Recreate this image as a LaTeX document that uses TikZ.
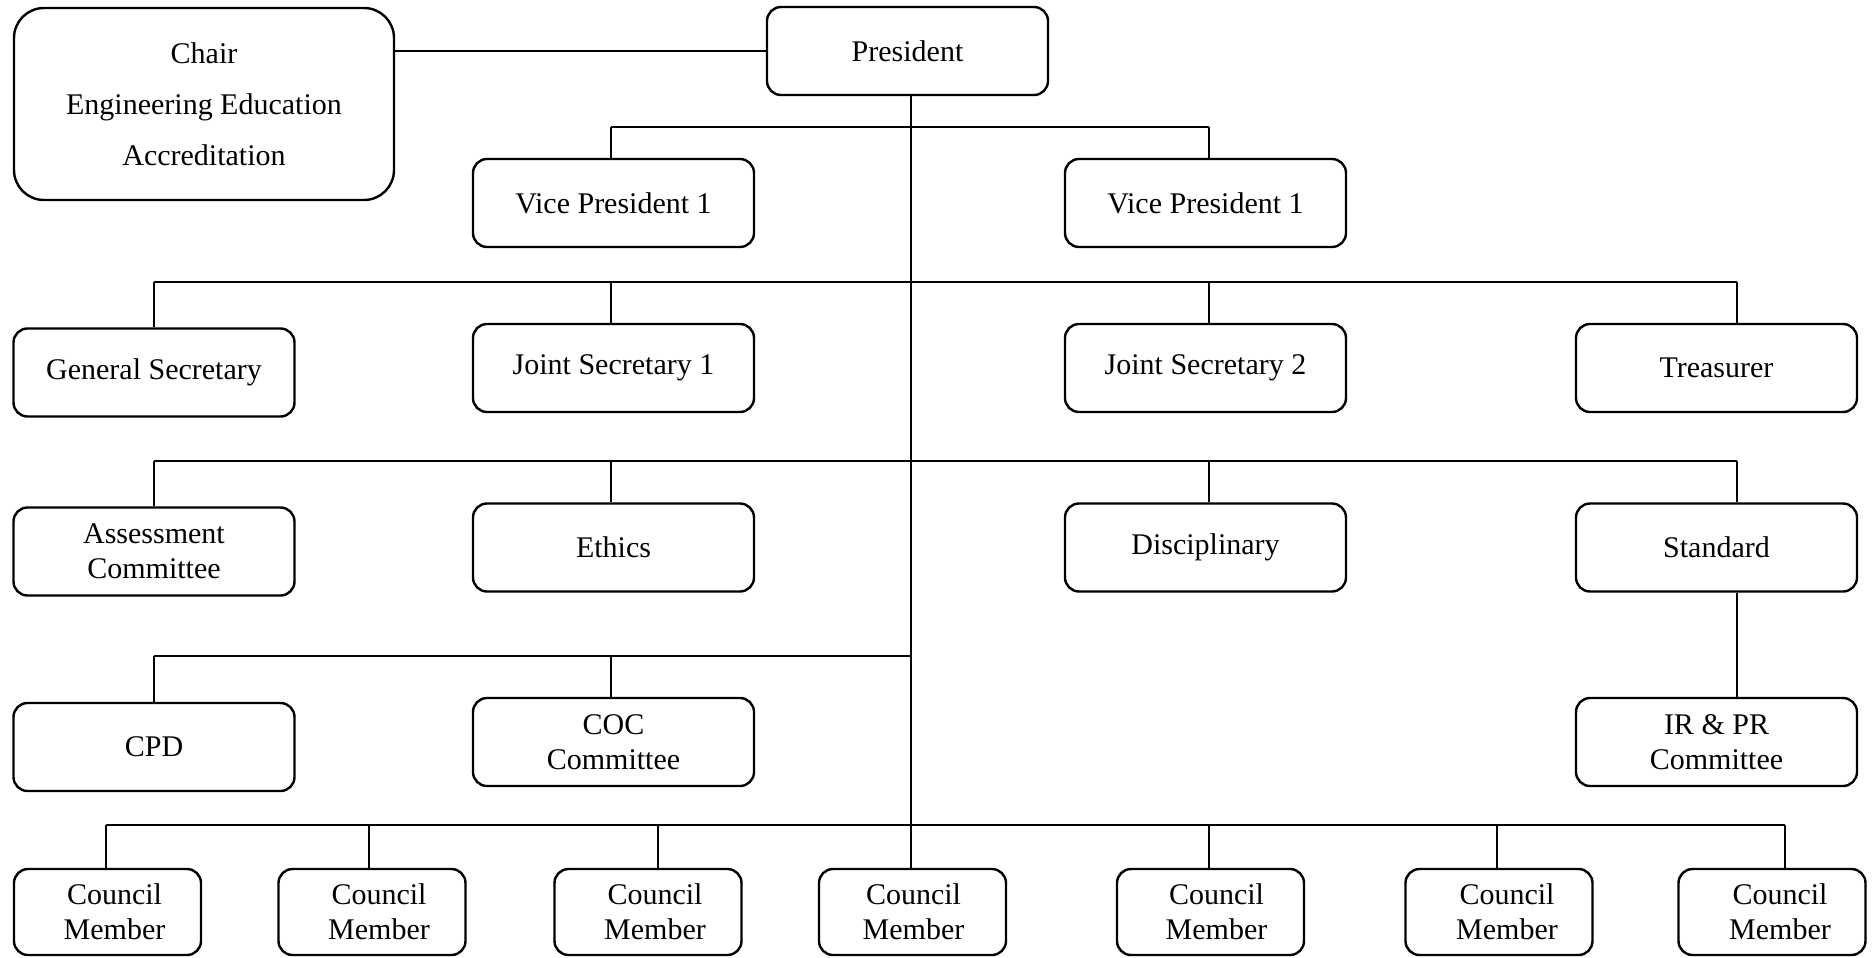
\documentclass[tikz,border=0pt]{standalone}
\usepackage{fontspec}
\setmainfont{Liberation Serif}
\usetikzlibrary{positioning, calc}

\begin{document}
\begin{tikzpicture}[
    x=0.5pt, y=-0.5pt,
    font=\fontsize{15}{17.5}\selectfont,
    post/.style={rectangle, draw, rounded corners=7pt, line width=1.2pt, minimum width=140.5pt, minimum height=44pt, align=center, inner sep=0pt},
    member/.style={post, minimum width=93.5pt, minimum height=43pt},
    bus/.style={line width=0.9pt},
    drop/.style={line width=0.6pt}
]
\useasboundingbox (0,0) rectangle (1874,958);

% top
\node[post, minimum width=190pt, minimum height=96pt, rounded corners=15pt] (chair) at (204,104) {Chair\\[8pt]Engineering Education\\[8pt]Accreditation};
\node[post] (pres) at (907.5,51) {President};
\node[post] (vpa) at (613.5,203) {Vice President 1};
\node[post] (vpb) at (1205.5,203) {Vice President 1};

% officers
\node[post] (gensec) at (154,372.5) {General Secretary};
\node[post] (jsa) at (613.5,368) {Joint Secretary 1};
\node[post] (jsb) at (1205.5,368) {Joint Secretary 2};
\node[post] (treas) at (1716.5,368) {Treasurer};

% committees
\node[post] (assess) at (154,551.5) {Assessment\\Committee};
\node[post] (ethics) at (613.5,547.5) {Ethics};
\node[post] (discip) at (1205.5,547.5) {Disciplinary};
\node[post] (std) at (1716.5,547.5) {Standard};
\node[post] (cpd) at (154,747) {CPD};
\node[post] (coc) at (613.5,742) {COC\\Committee};
\node[post] (irpr) at (1716.5,742) {IR \& PR\\Committee};

% council
\foreach \n/\x/\p in {cma/107.5/7, cmb/372/7, cmc/648/7, cmd/912.5/1, cme/1210.5/6, cmf/1499/8, cmg/1772/8}
  \node[member] (\n) at (\x,912) {\hspace*{\p pt}Council\\\hspace*{\p pt}Member};

% trunk
\coordinate (trunk) at (911,0);
\draw[drop] (trunk |- pres.south) -- (trunk |- cmd.north);
\draw[drop] (pres.west) -- (pres.west -| chair.east);

% vice presidents
\foreach \x/\n in {611/vpa, 1209/vpb}
  {\coordinate (t\n) at (\x,127); \draw[drop] (t\n) -- (t\n |- \n.north);}
\draw[bus] (tvpa) -- (tvpb);

% officers
\foreach \x/\n in {154/gensec, 611/jsa, 1209/jsb, 1737/treas}
  {\coordinate (t\n) at (\x,282); \draw[drop] (t\n) -- (t\n |- \n.north);}
\draw[bus] (tgensec) -- (ttreas);

% committees
\foreach \x/\n in {154/assess, 611/ethics, 1209/discip, 1737/std}
  {\coordinate (t\n) at (\x,461); \draw[drop] (t\n) -- (t\n |- \n.north);}
\draw[bus] (tassess) -- (tstd);
\draw[drop] (tstd |- std.south) -- (tstd |- irpr.north);

\foreach \x/\n in {154/cpd, 611/coc}
  {\coordinate (t\n) at (\x,656); \draw[drop] (t\n) -- (t\n |- \n.north);}
\draw[bus] (tcpd) -- (trunk |- tcpd);

% council members
\foreach \x/\n in {106/cma, 369/cmb, 658/cmc, 911/cmd, 1209/cme, 1497/cmf, 1785/cmg}
  {\coordinate (t\n) at (\x,825); \draw[drop] (t\n) -- (t\n |- \n.north);}
\draw[bus] (tcma) -- (tcmg);
\end{tikzpicture}
\end{document}
